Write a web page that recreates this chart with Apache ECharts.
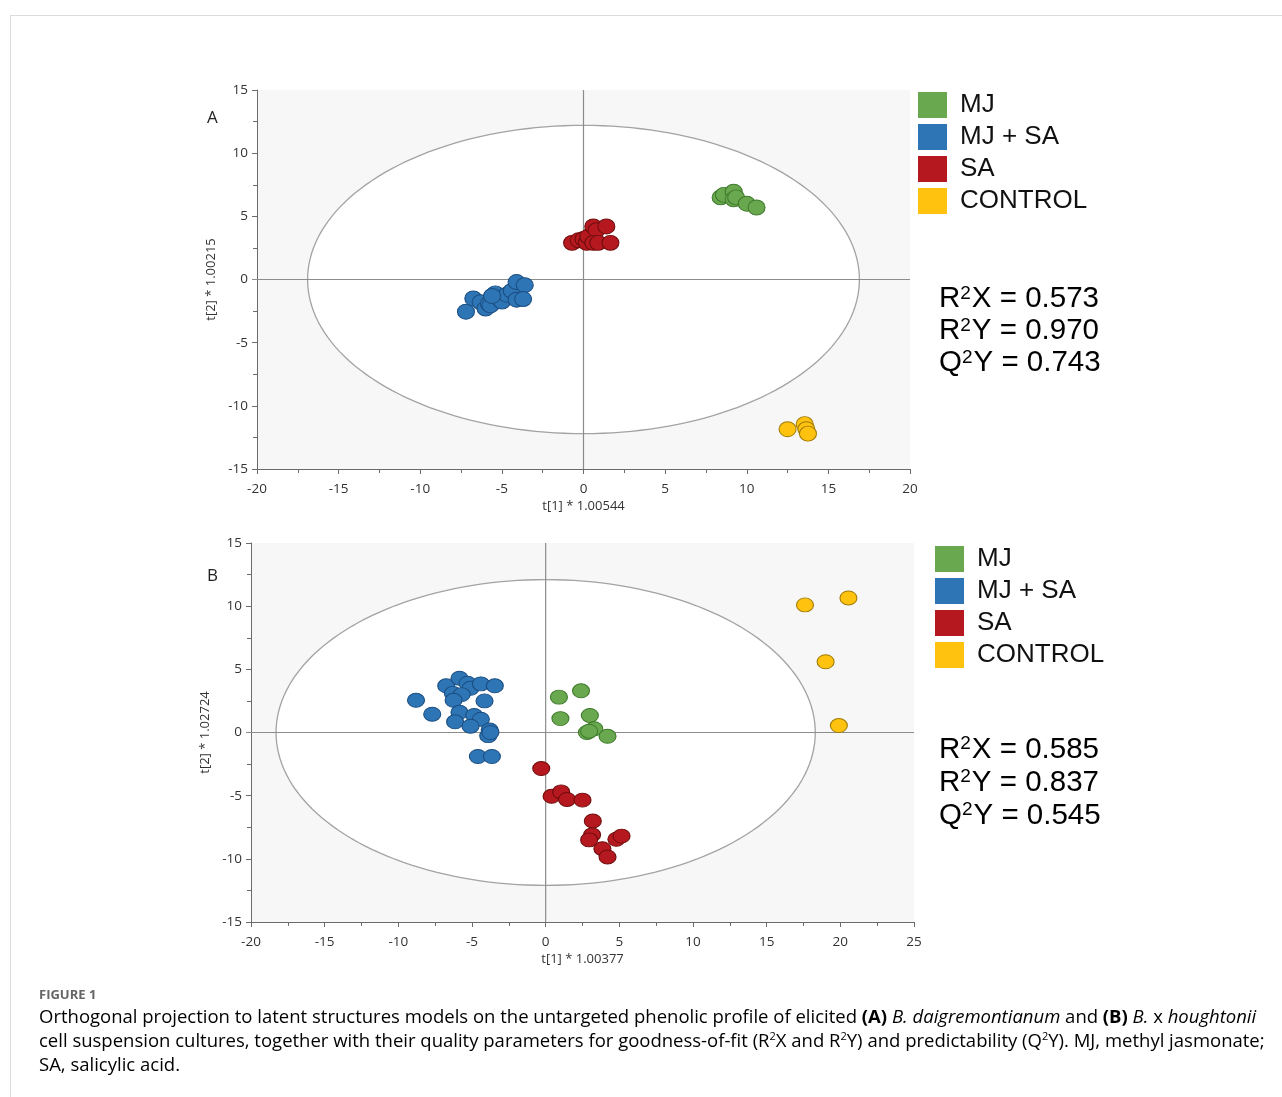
<!DOCTYPE html>
<html>
<head>
<meta charset="utf-8">
<script src="https://cdn.jsdelivr.net/npm/echarts@6/dist/echarts.min.js"></script>
<style>
html,body{margin:0;padding:0;background:#fff;}
#chart{width:1282px;height:1097px;}
</style>
</head>
<body>
<div id="chart"></div>
<script>
// ---------- Data ----------
const groups = ['MJ', 'MJ + SA', 'SA', 'CONTROL'];
const colors = ['#6aa84f', '#2e75b6', '#b5191f', '#ffc20e'];
const borders = ['#3e7a2b', '#1b4e80', '#6e0c0c', '#a07b06'];

// Panel A: B. daigremontianum
const mjA = [[8.4,6.5],[8.6,6.7],[9.2,6.95],[9.2,6.35],[9.35,6.5],[10.0,6.0],[10.6,5.7]];
const mjsaA = [[-7.2,-2.55],[-6.75,-1.5],[-6.3,-1.8],[-6.0,-2.3],[-5.8,-1.9],[-5.7,-2.05],[-5.4,-1.1],[-5.2,-1.5],[-5.0,-1.75],[-4.7,-1.2],[-4.4,-0.9],[-4.1,-0.2],[-3.6,-0.45],[-4.1,-1.6],[-3.7,-1.55],[-5.6,-1.3]];
const saA = [[-0.7,2.9],[-0.3,3.1],[0.0,3.2],[0.2,2.9],[0.3,3.4],[0.6,4.2],[0.8,3.9],[1.4,4.2],[0.6,2.9],[0.9,2.9],[1.65,2.9]];
const ctrlA = [[12.5,-11.85],[13.55,-11.45],[13.65,-11.85],[13.75,-12.2]];

// Panel B: B. x houghtonii
const mjB = [[0.9,2.8],[2.4,3.3],[1.0,1.1],[3.0,1.35],[3.3,0.3],[2.8,0.0],[2.95,0.1],[4.2,-0.3]];
const mjsaB = [[-8.8,2.55],[-7.7,1.45],[-6.75,3.7],[-5.85,4.3],[-5.3,3.9],[-5.1,3.5],[-4.4,3.85],[-3.45,3.7],[-6.3,3.1],[-5.7,3.0],[-6.25,2.55],[-4.15,2.5],[-5.85,1.6],[-4.85,1.35],[-4.4,1.05],[-6.15,0.85],[-5.1,0.5],[-3.8,0.2],[-3.9,-0.25],[-3.75,0.0],[-4.6,-1.9],[-3.65,-1.9]];
const saB = [[-0.3,-2.85],[0.4,-5.05],[1.05,-4.7],[1.45,-5.3],[2.5,-5.35],[3.2,-7.0],[3.15,-8.1],[2.95,-8.5],[3.85,-9.2],[4.2,-9.85],[4.8,-8.45],[5.15,-8.2]];
const ctrlB = [[17.6,10.1],[20.55,10.65],[19.0,5.6],[19.9,0.55]];

// Axis ranges and labels
const xRangeA = [-20, 20], yRangeA = [-15, 15];
const xRangeB = [-20, 25], yRangeB = [-15, 15];
const xNameA = 't[1] * 1.00544', yNameA = 't[2] * 1.00215';
const xNameB = 't[1] * 1.00377', yNameB = 't[2] * 1.02724';
// Hotelling T2 ellipse semi-axes
const ellipseA = [16.9, 12.2];
const ellipseB = [18.3, 12.1];
// Quality parameters
const statsA = ['0.573', '0.970', '0.743'];
const statsB = ['0.585', '0.837', '0.545'];

// ---------- Chart ----------
const chart = echarts.init(document.getElementById('chart'));
const axisFont = 'Open Sans';
const axisColor = '#6b6b6b';

function makeX(idx, range, name) {
  return {
    gridIndex: idx, type: 'value', min: range[0], max: range[1], interval: 5,
    name: name, nameLocation: 'middle', nameGap: 31,
    nameTextStyle: {fontFamily: axisFont, fontSize: 13, color: '#333'},
    axisLine: {show: true, onZero: false, lineStyle: {color: axisColor, width: 1}},
    axisTick: {show: true, length: 5, lineStyle: {color: axisColor}},
    minorTick: {show: true, splitNumber: 2, length: 4, lineStyle: {color: axisColor}},
    splitLine: {show: false},
    axisLabel: {fontFamily: axisFont, fontSize: 13.5, color: '#333', margin: 13}
  };
}
function makeY(idx, range, name, gap) {
  return {
    gridIndex: idx, type: 'value', min: range[0], max: range[1], interval: 5,
    name: name, nameLocation: 'middle', nameGap: gap, nameRotate: 90,
    nameTextStyle: {fontFamily: axisFont, fontSize: 13, color: '#333'},
    axisLine: {show: true, onZero: false, lineStyle: {color: axisColor, width: 1}},
    axisTick: {show: true, length: 5, lineStyle: {color: axisColor}},
    minorTick: {show: true, splitNumber: 2, length: 4, lineStyle: {color: axisColor}},
    splitLine: {show: false},
    axisLabel: {fontFamily: axisFont, fontSize: 13.5, color: '#333', margin: 9}
  };
}

function ellipseRender(semi, xr, yr) {
  return function (params, api) {
    const pts = [];
    const n = 180;
    for (let i = 0; i < n; i++) {
      const t = i / n * 2 * Math.PI;
      pts.push(api.coord([semi[0] * Math.cos(t), semi[1] * Math.sin(t)]));
    }
    const h1 = api.coord([xr[0], 0]), h2 = api.coord([xr[1], 0]);
    const v1 = api.coord([0, yr[0]]), v2 = api.coord([0, yr[1]]);
    return {
      type: 'group',
      children: [
        {type: 'polygon', shape: {points: pts}, style: {fill: '#ffffff', stroke: '#a3a3a3', lineWidth: 1.3}},
        {type: 'line', shape: {x1: h1[0] - 5, y1: h1[1], x2: h2[0], y2: h2[1]}, style: {stroke: '#8c8c8c', lineWidth: 1.2}},
        {type: 'line', shape: {x1: v1[0], y1: v1[1], x2: v2[0], y2: v2[1]}, style: {stroke: '#8c8c8c', lineWidth: 1.2}}
      ]
    };
  };
}

function scatter(name, gi, data, idx, size) {
  return {
    type: 'scatter', name: name, xAxisIndex: gi, yAxisIndex: gi, data: data,
    symbol: 'circle', symbolSize: size, z: 3,
    itemStyle: {color: colors[idx], borderColor: borders[idx], borderWidth: 1, opacity: 1}
  };
}

function statsText(vals) {
  return '{m|R}{s|2}{m|X = ' + vals[0] + '}\n{m|R}{s|2}{m|Y = ' + vals[1] + '}\n{m|Q}{s|2}{m|Y = ' + vals[2] + '}';
}
const statsRich = {
  m: {fontFamily: 'Liberation Sans', fontSize: 29.5, color: '#111', lineHeight: 32},
  s: {fontFamily: 'Liberation Sans', fontSize: 19, color: '#111', lineHeight: 19, padding: [0, 1, 11, 0]}
};

const capRich = {
  n: {fontFamily: 'Open Sans', fontSize: 18.5, color: '#5f5f5f', lineHeight: 24},
  b: {fontFamily: 'Open Sans', fontSize: 18.5, fontWeight: 'bold', color: '#444', lineHeight: 24},
  i: {fontFamily: 'Open Sans', fontSize: 18.5, fontStyle: 'italic', color: '#5f5f5f', lineHeight: 24},
  s: {fontFamily: 'Open Sans', fontSize: 11, color: '#5f5f5f', lineHeight: 11, padding: [0, 0, 10, 0]}
};
const caption =
  '{n|Orthogonal projection to latent structures models on the untargeted phenolic profile of elicited }{b|(A)}{n| }{i|B. daigremontianum}{n| and }{b|(B)}{n| }{i|B.}{n| x }{i|houghtonii}\n' +
  '{n|cell suspension cultures, together with their quality parameters for goodness-of-fit (R}{s|2}{n|X and R}{s|2}{n|Y) and predictability (Q}{s|2}{n|Y). MJ, methyl jasmonate;}\n' +
  '{n|SA, salicylic acid.}';

function legendFor(left, top) {
  return {
    orient: 'vertical', left: left, top: top, data: groups, padding: 0,
    icon: 'rect', itemWidth: 29, itemHeight: 26, itemGap: 6,
    itemStyle: {borderWidth: 0},
    textStyle: {fontFamily: 'Liberation Sans', fontSize: 26, color: '#111', lineHeight: 26, padding: [0, 0, 0, 8]},
    selectedMode: false
  };
}

const option = {
  animation: false,
  backgroundColor: '#ffffff',
  grid: [
    {left: 257, top: 90, width: 653, height: 379, show: true, backgroundColor: '#f7f7f7', borderWidth: 0},
    {left: 251, top: 543, width: 663, height: 379, show: true, backgroundColor: '#f7f7f7', borderWidth: 0}
  ],
  xAxis: [makeX(0, xRangeA, xNameA), makeX(1, xRangeB, xNameB)],
  yAxis: [makeY(0, yRangeA, yNameA, 33), makeY(1, yRangeB, yNameB, 33)],
  legend: [legendFor(918, 92), legendFor(935, 546)],
  series: [
    {type: 'custom', xAxisIndex: 0, yAxisIndex: 0, data: [[0, 0]], z: 1, silent: true,
     renderItem: ellipseRender(ellipseA, xRangeA, yRangeA)},
    {type: 'custom', xAxisIndex: 1, yAxisIndex: 1, data: [[0, 0]], z: 1, silent: true,
     renderItem: ellipseRender(ellipseB, xRangeB, yRangeB)},
    scatter(groups[0], 0, mjA, 0, [17, 15]),
    scatter(groups[1], 0, mjsaA, 1, [17, 15]),
    scatter(groups[2], 0, saA, 2, [17, 15]),
    scatter(groups[3], 0, ctrlA, 3, [17, 15]),
    scatter(groups[0], 1, mjB, 0, [17, 14]),
    scatter(groups[1], 1, mjsaB, 1, [17, 14]),
    scatter(groups[2], 1, saB, 2, [17, 14]),
    scatter(groups[3], 1, ctrlB, 3, [17, 14])
  ],
  graphic: [
    {type: 'line', shape: {x1: 10, y1: 15.5, x2: 1282, y2: 15.5}, style: {stroke: '#dcdcdc', lineWidth: 1}},
    {type: 'line', shape: {x1: 10.5, y1: 15, x2: 10.5, y2: 1097}, style: {stroke: '#dcdcdc', lineWidth: 1}},
    {type: 'text', x: 207, y: 110, style: {text: 'A', fontFamily: axisFont, fontSize: 17, fill: '#222'}},
    {type: 'text', x: 207, y: 568, style: {text: 'B', fontFamily: axisFont, fontSize: 17, fill: '#222'}},
    {type: 'text', x: 939, y: 283, style: {text: statsText(statsA), rich: statsRich}},
    {type: 'text', x: 939, y: 733, style: {text: statsText(statsB), rich: {
      m: Object.assign({}, statsRich.m, {lineHeight: 33}), s: statsRich.s}}},
    {type: 'text', x: 39, y: 989, style: {text: 'FIGURE 1', fontFamily: 'Open Sans', fontSize: 13, fontWeight: 'bold', fill: '#666'}},
    {type: 'text', x: 39, y: 1006, style: {text: caption, rich: capRich}}
  ]
};
chart.setOption(option);
</script>
</body>
</html>
